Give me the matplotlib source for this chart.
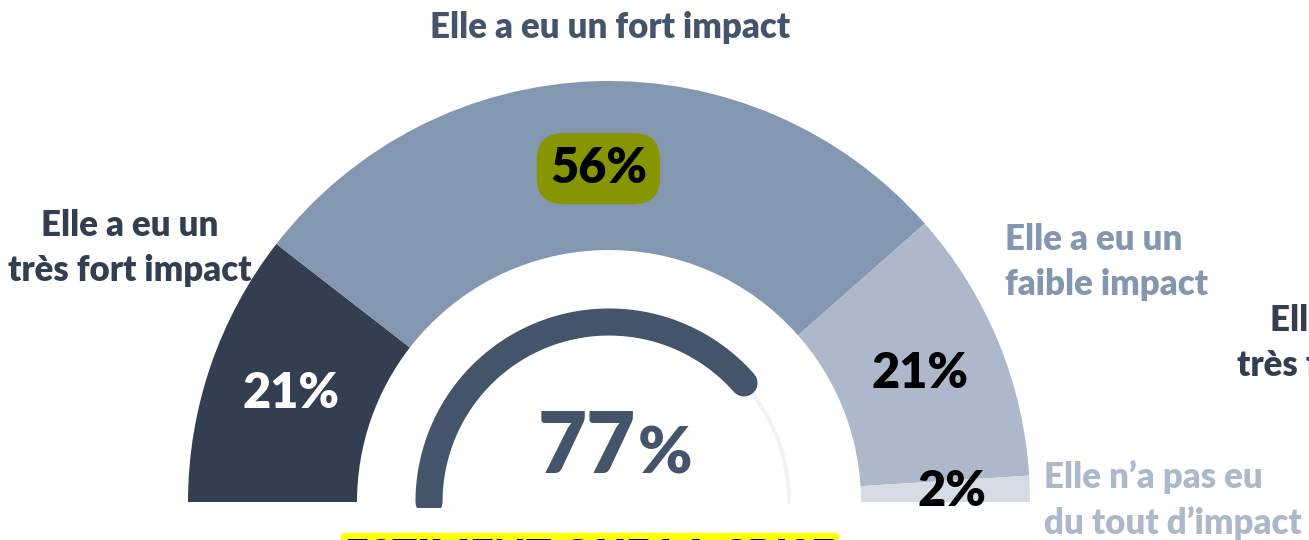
import matplotlib
matplotlib.use("Agg")
import matplotlib.pyplot as plt
from matplotlib.patches import Rectangle
import numpy as np

plt.rcParams["font.family"] = ["Lato", "DejaVu Sans"]
plt.rcParams["font.weight"] = "bold"

W, H = 1309, 540

# data
categories = ["Elle a eu un\ntrès fort impact", "Elle a eu un fort impact",
              "Elle a eu un\nfaible impact", "Elle n’a pas eu\ndu tout d’impact"]
shares = [21, 56, 21, 2]
gauge_value = 77
gauge_caption = "ESTIMENT QUE LA CRISE"

seg_colors = ["#333f50", "#8497b0", "#adb9ca", "#d6dce5"]
pct_colors = ["white", "black", "black", "black"]
label_colors = ["#333f50", "#44546a", "#8497b0", "#adb9ca"]

fig = plt.figure(figsize=(W / 100, H / 100), dpi=100)
ax = fig.add_axes([0, 0, 1, 1])

cx, cy = 609, H - 502
r_out, r_in = 421, 252

# outer half donut (hidden second half)
ax.pie(shares + [sum(shares)], radius=r_out, center=(cx, cy), startangle=180,
       counterclock=False, colors=seg_colors + ["none"],
       wedgeprops=dict(width=r_out - r_in, linewidth=0))

# percentages at segment mid-angles
edges = np.cumsum([0] + shares)
r_mid = (r_out + r_in) / 2
for i, v in enumerate(shares):
    ang = np.pi * (1 - (edges[i] + v / 2) / 100)
    x, y = cx + r_mid * np.cos(ang), cy + r_mid * np.sin(ang)
    kw = {}
    if i == 1:
        kw["bbox"] = dict(boxstyle="round,pad=0.27,rounding_size=0.55",
                          fc="#879600", ec="none")
        y -= 3
    if i == 3:
        x += 7
    ax.text(x, y, f"{v}%", ha="center", va="center", fontsize=35,
            color=pct_colors[i], fontweight="heavy", **kw)

# inner gauge, clipped flat at the bottom
r_g = 180
clip = Rectangle((0, H - 508), W, H, transform=ax.transData)
t = np.linspace(np.pi, 0, 300)
track, = ax.plot(cx + r_g * np.cos(t), cy + r_g * np.sin(t), color="#f2f2f2", lw=2.8)
t = np.linspace(np.pi, np.pi * (1 - gauge_value / 100), 300)
arc, = ax.plot(cx + r_g * np.cos(t), cy + r_g * np.sin(t), color="#44546a", lw=19.5,
               solid_capstyle="round")
arc.set_clip_path(clip)
track.set_clip_path(clip)
ax.text(636, H - 473, str(gauge_value), ha="right", va="baseline",
        fontsize=61, color="#44546a", fontweight="heavy")
ax.text(638, H - 473, "%", ha="left", va="baseline",
        fontsize=47, color="#44546a", fontweight="heavy")

ax.text(590, H - 537, gauge_caption, ha="center", va="top", fontsize=30,
        color="black", fontweight="heavy",
        bbox=dict(boxstyle="round,pad=0.1", fc="#ffff00", ec="none"))

# category labels
lab = dict(va="center", fontsize=25, fontweight="heavy", linespacing=1.42)
ax.text(130, H - 248, categories[0], ha="center", color=label_colors[0], **lab)
ax.text(610, H - 28, categories[1], ha="center", color=label_colors[1], **lab)
ax.text(1005, H - 262, categories[2], ha="left", color=label_colors[2], **lab)
ax.text(1044, H - 500, categories[3], ha="left", color=label_colors[3], **lab)
# next chart's label peeking in from the right
ax.text(1359, H - 343, categories[0], ha="center", color=label_colors[0], **lab)

ax.set_xlim(0, W)
ax.set_ylim(0, H)
ax.set_aspect("equal")
ax.axis("off")

fig.savefig("out.png", dpi=100)
